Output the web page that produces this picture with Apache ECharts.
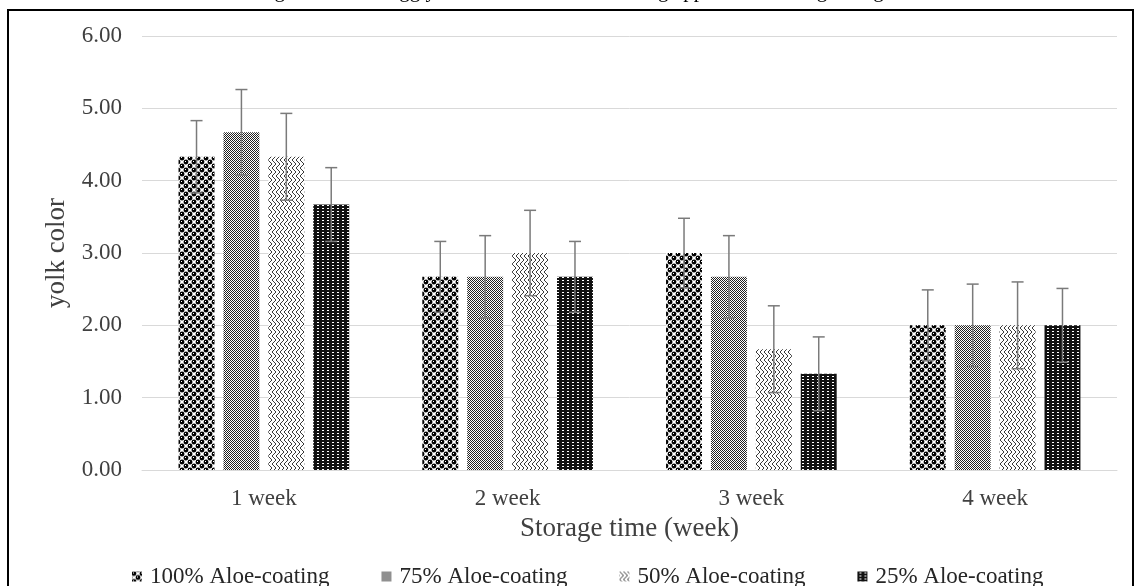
<!DOCTYPE html>
<html><head><meta charset="utf-8">
<script src="https://cdn.jsdelivr.net/npm/echarts@6/dist/echarts.min.js"></script>
<style>html,body{margin:0;padding:0;background:#fff}#c{width:1138px;height:586px}</style>
</head><body><div id="c"></div>
<script>
const categories = ['1 week', '2 week', '3 week', '4 week'];
const seriesNames = ['100% Aloe-coating', '75% Aloe-coating', '50% Aloe-coating', '25% Aloe-coating'];
const aloe100 = [4.33, 2.67, 3.00, 2.00];
const aloe75  = [4.67, 2.67, 2.67, 2.00];
const aloe50  = [4.33, 3.00, 1.67, 2.00];
const aloe25  = [3.67, 2.67, 1.33, 2.00];
const err100 = [0.50, 0.49, 0.48, 0.49];
const err75  = [0.59, 0.57, 0.57, 0.57];
const err50  = [0.60, 0.59, 0.60, 0.60];
const err25  = [0.51, 0.49, 0.51, 0.51];
const titleText = 'Figure 3. Quail egg yolk color with Aloe-coating application during storage';
const yAxisName = 'yolk color';
const xAxisName = 'Storage time (week)';

const FONT = '"Liberation Serif", "Times New Roman", serif';

function makePattern(kind) {
  const cv = document.createElement('canvas');
  let ctx;
  if (kind === 0) { // spheres
    cv.width = 8; cv.height = 8; ctx = cv.getContext('2d');
    ctx.fillStyle = '#fff'; ctx.fillRect(0, 0, 8, 8);
    ctx.fillStyle = '#000';
    [[2, 2], [6, 6], [-2, 6], [6, -2], [-2, -2], [10, 2], [2, 10], [10, 10], [-2, 10], [10, -2]].forEach(function (p) {
      ctx.beginPath(); ctx.arc(p[0], p[1], 2.4, 0, Math.PI * 2); ctx.fill();
    });
    ctx.fillStyle = '#fff';
    ctx.fillRect(1, 1, 1, 1); ctx.fillRect(5, 5, 1, 1);
  } else if (kind === 1) { // fine dots
    cv.width = 2; cv.height = 2; ctx = cv.getContext('2d');
    ctx.fillStyle = '#fff'; ctx.fillRect(0, 0, 2, 2);
    ctx.fillStyle = '#222'; ctx.fillRect(0, 0, 1, 1); ctx.fillRect(1, 1, 1, 1);
  } else if (kind === 2) { // herringbone / weave
    cv.width = 8; cv.height = 8; ctx = cv.getContext('2d');
    ctx.fillStyle = '#fff'; ctx.fillRect(0, 0, 8, 8);
    ctx.fillStyle = '#3a3a3a';
    for (let y = 0; y < 8; y++) {
      const k = y % 4;
      if (y < 4) {
        ctx.fillRect(k, y, 1, 1); ctx.fillRect(k + 4, y, 1, 1);
      } else {
        ctx.fillRect((3 - k + 8) % 8, y, 1, 1); ctx.fillRect((7 - k) % 8, y, 1, 1);
      }
    }
  } else { // dark with white dots
    cv.width = 5; cv.height = 3; ctx = cv.getContext('2d');
    ctx.fillStyle = '#111'; ctx.fillRect(0, 0, 5, 3);
    ctx.fillStyle = '#fff'; ctx.fillRect(2, 1, 2, 1);
  }
  return { image: cv, repeat: 'repeat' };
}

const values = [aloe100, aloe75, aloe50, aloe25];
const errors = [err100, err75, err50, err25];
const N = values.length;
const CAT_GAP = 0.30, BAR_GAP = 0.25;

const barSeries = values.map(function (vals, i) {
  return {
    name: seriesNames[i],
    type: 'bar',
    data: vals,
    barGap: '25%',
    barCategoryGap: '30%',
    itemStyle: { color: makePattern(i) },
    emphasis: { disabled: true }
  };
});

const errData = [];
errors.forEach(function (errs, s) {
  errs.forEach(function (e, c) { errData.push([c, s, values[s][c], e]); });
});

const errSeries = {
  type: 'custom',
  data: errData,
  encode: { x: 0, y: 2 },
  silent: true,
  z: 10,
  renderItem: function (params, api) {
    const c = api.value(0), s = api.value(1), v = api.value(2), e = api.value(3);
    const band = api.size([1, 0])[0];
    const usable = band * (1 - CAT_GAP);
    const bw = usable / (N + (N - 1) * BAR_GAP);
    const xc = api.coord([c, 0])[0];
    const x = xc - usable / 2 + s * bw * (1 + BAR_GAP) + bw / 2;
    const yT = api.coord([c, v + e])[1];
    const yB = api.coord([c, v - e])[1];
    const hw = 6;
    const st = { stroke: '#7a7a7a', lineWidth: 1.5 };
    return {
      type: 'group',
      children: [
        { type: 'line', shape: { x1: x, y1: yT, x2: x, y2: yB }, style: st },
        { type: 'line', shape: { x1: x - hw, y1: yT, x2: x + hw, y2: yT }, style: st },
        { type: 'line', shape: { x1: x - hw, y1: yB, x2: x + hw, y2: yB }, style: st }
      ]
    };
  }
};

const chart = echarts.init(document.getElementById('c'), null, { renderer: 'canvas' });
chart.setOption({
  animation: false,
  backgroundColor: '#fff',
  textStyle: { fontFamily: FONT },
  graphic: [
    { type: 'rect', shape: { x: 8, y: 10, width: 1125, height: 620 }, style: { fill: 'none', stroke: '#000', lineWidth: 2 }, silent: true },
    { type: 'text', x: 575, y: 2, style: { text: titleText, font: '21px ' + FONT, fill: '#000', align: 'center', verticalAlign: 'bottom' }, silent: true }
  ],
  grid: { left: 142, right: 21, top: 36, bottom: 116 },
  legend: {
    data: seriesNames,
    left: 127, top: 560,
    icon: 'rect', itemWidth: 10, itemHeight: 10, itemGap: 52,
    textStyle: { fontFamily: FONT, fontSize: 23, color: '#262626', padding: [0, 0, 0, 3] }
  },
  xAxis: {
    type: 'category',
    data: categories,
    axisLine: { lineStyle: { color: '#d9d9d9', width: 1 } },
    axisTick: { show: false },
    axisLabel: { fontFamily: FONT, fontSize: 23, color: '#404040', margin: 17 },
    name: xAxisName,
    nameLocation: 'middle',
    nameGap: 45,
    nameTextStyle: { fontFamily: FONT, fontSize: 27, color: '#404040', verticalAlign: 'top' }
  },
  yAxis: {
    type: 'value',
    min: 0, max: 6, interval: 1,
    axisLine: { show: false },
    axisTick: { show: false },
    splitLine: { lineStyle: { color: '#d9d9d9', width: 1 } },
    axisLabel: { fontFamily: FONT, fontSize: 23, color: '#404040', margin: 20, formatter: function (v) { return v.toFixed(2); } },
    name: yAxisName,
    nameLocation: 'middle',
    nameGap: 72,
    nameRotate: 90,
    nameTextStyle: { fontFamily: FONT, fontSize: 27, color: '#404040' }
  },
  series: barSeries.concat([errSeries])
});
</script>
</body></html>
